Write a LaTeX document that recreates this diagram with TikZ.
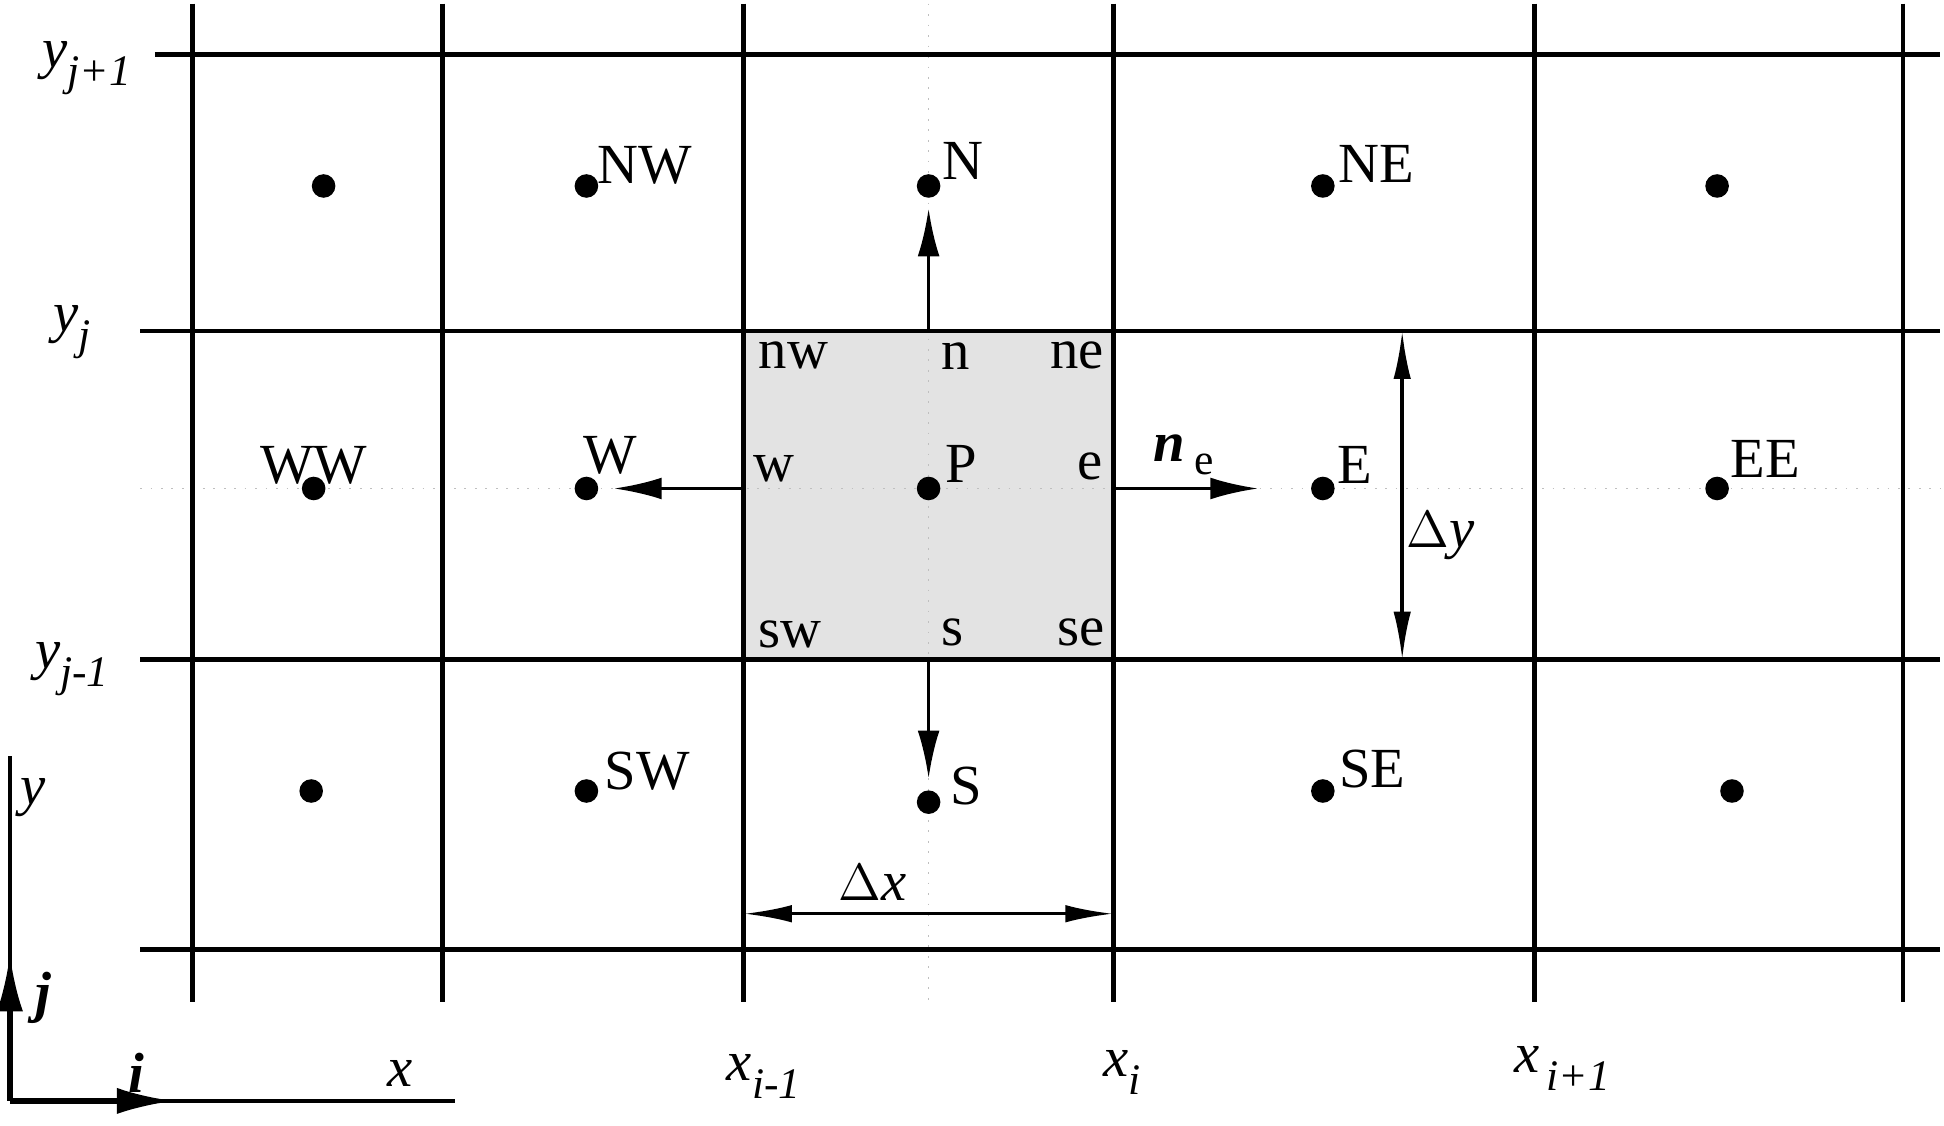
\documentclass[tikz,border=0pt]{standalone}
\usepackage{fontspec}
\setmainfont{Liberation Serif}
\usetikzlibrary{arrows.meta}
\newcommand\mysub[2]{\textit{#1}\raisebox{-0.7ex}{\fontsize{10}{12}\selectfont\textit{#2}}}
\begin{document}
\begin{tikzpicture}[x=0.01cm,y=-0.01cm,
  grid/.style={line width=1.1pt},
  pt/.style={circle,fill=black,inner sep=0pt,minimum size=0.19cm},
  lbl/.style={inner sep=0pt,font=\fontsize{13}{15}\selectfont},
  arr/.style={line width=0.8pt,-{Latex[length=11pt,width=5pt]}},
  darr/.style={line width=0.8pt,{Latex[length=11pt,width=4pt]}-{Latex[length=11pt,width=4pt]}}]
\useasboundingbox (0,0) rectangle (1568,908);
\fill[black!11] (600,267) rectangle (898,532);
\draw[dotted,black!25] (113,394) -- (1565,394);
\draw[dotted,black!25] (749,3) -- (749,808);
\foreach \x in {155,357,600,898,1238,1535} \draw[grid] (\x,3) -- (\x,808);
\draw[grid] (125,44) -- (1565,44);
\foreach \y in {267,532,766} \draw[grid] (113,\y) -- (1565,\y);
% points
\foreach \n/\x/\y in {a1/261/150,NW/473/150,N/749/150,NE/1067/150,a5/1385/150,
  WW/253/394,W/473/394,P/749/394,E/1067/394,EE/1385/394,
  b1/251/638,SW/473/638,S/749/647,SE/1067/638,b5/1397/638}
  \node[pt] (\n) at (\x,\y) {};
\foreach \t/\x/\y in {NW/520/133,N/777/130,NE/1110/132,WW/253/375,W/492/367,P/775/374,E/1093/375,EE/1424/370,SW/522/622,S/779/634,SE/1107/620,
  nw/640/287,n/771/287,ne/869/287,w/624/378,e/879/376,sw/637/512,s/768/510,se/872/510}
  \node[lbl] (l\t) at (\x,\y) {\t};
\node[lbl] (nvec) at (955,367) {\textbf{\textit{n}}\,\raisebox{-0.5ex}{\fontsize{10}{12}\selectfont e}};
% arrows
\coordinate (fn) at (749,267); \coordinate (fs) at (749,532);
\coordinate (fw) at (600,394); \coordinate (fe) at (898,394);
\coordinate (ew) at (495,394); \coordinate (ee) at (1015,394);
\coordinate (en) at (749,168); \coordinate (es) at (749,628);
\draw[arr] (fn) -- (en);
\draw[arr] (fs) -- (es);
\draw[arr] (fw) -- (ew);
\draw[arr] (fe) -- (ee);
\coordinate (dy1) at (1131,267); \coordinate (dy2) at (1131,532);
\draw[darr] (dy1) -- (dy2);
\node[lbl] (ldy) at (1162,432) {$\Delta$\textit{y}};
\coordinate (dx1) at (600,737); \coordinate (dx2) at (898,737);
\draw[darr] (dx1) -- (dx2);
\node[lbl] (ldx) at (704,712) {$\Delta$\textit{x}};
% axes
\coordinate (o) at (8,888); \coordinate (yt) at (8,610); \coordinate (xt) at (367,888);
\coordinate (jv) at (8,770); \coordinate (iv) at (140,888);
\draw[line width=0.8pt] (o) -- (yt);
\draw[line width=0.8pt] (o) -- (xt);
\draw[line width=1.2pt,-{Latex[length=13pt,width=6pt]}] (o) -- (jv);
\draw[line width=1.2pt,-{Latex[length=13pt,width=6pt]}] (o) -- (iv);
\node[lbl] (ly) at (27,643) {\textit{y}};
\node[lbl] (lj) at (35,805) {\textbf{\textit{j}}};
\node[lbl] (li) at (110,865) {\textbf{\textit{i}}};
\node[lbl] (lx) at (323,866) {\textit{x}};
\node[lbl] (y1) at (70,55) {\mysub{y}{j+1}};
\node[lbl] (y2) at (58,268) {\mysub{y}{j}};
\node[lbl] (y3) at (58,540) {\mysub{y}{j-1}};
\node[lbl] (x1) at (616,868) {\mysub{x}{i-1}};
\node[lbl] (x2) at (905,865) {\mysub{x}{i}};
\node[lbl] (x3) at (1260,862) {\mysub{x}{\,i+1}};
\end{tikzpicture}
\end{document}
